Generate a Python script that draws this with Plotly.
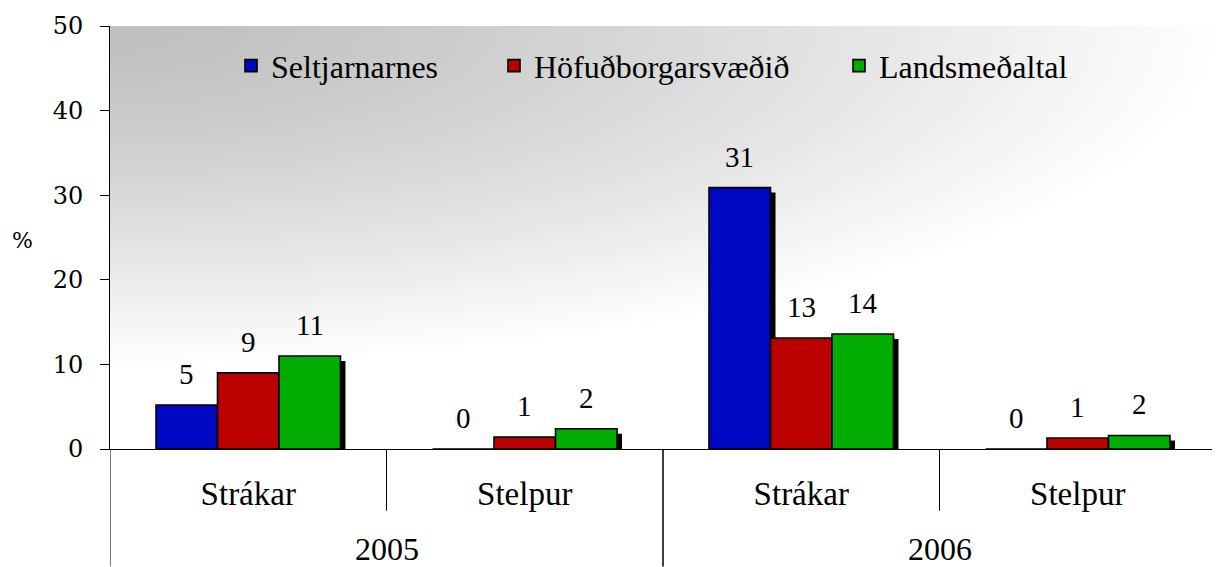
import base64
import struct
import zlib

import numpy as np
import plotly.graph_objects as go

# ---------------- data ----------------
years = ["2005", "2005", "2006", "2006"]
groups = ["Strákar", "Stelpur", "Strákar", "Stelpur"]
series_names = ["Seltjarnarnes", "Höfuðborgarsvæðið", "Landsmeðaltal"]
seltjarnarnes = [5.2, 0.0, 30.9, 0.0]
hofudborgarsvaedid = [9.0, 1.4, 13.1, 1.3]
landsmedaltal = [11.0, 2.4, 13.6, 1.6]
y_ticks = [0, 10, 20, 30, 40, 50]

series_values = [seltjarnarnes, hofudborgarsvaedid, landsmedaltal]
series_colors = ["#0008c4", "#bb0000", "#00ad00"]

# ---------------- layout constants ----------------
BODY = 8                      # page body margin of the html page
SCR_W, SCR_H = 1220, 567
W, H = SCR_W - BODY, SCR_H - BODY
# plot area in screen pixels: x 110..1216, y 24..449
ML, MR, MT, MB = 110 - BODY, SCR_W - 1216, 24 - BODY, SCR_H - 449
PW, PH = W - ML - MR, H - MT - MB


def px_x(sx):  # screen x -> paper x
    return (sx - BODY - ML) / PW


def px_y(sy):  # screen y -> paper y
    return (MT + PH - (sy - BODY)) / PH


SERIF = "Liberation Serif"
TICKFONT = "DejaVu Serif"

cat_keys = [f"{y} {g}" for y, g in zip(years, groups)]
n_series = len(series_values)
bar_w = 0.2224
shadow_dx = 5 / PW * len(cat_keys)
shadow_dy = 5 / PH * (y_ticks[-1] - y_ticks[0])


# ---------------- background gradient (png data uri) ----------------
def gradient_uri(w=240, h=96):
    u = np.linspace(0, 1, w)[None, :]
    v = np.linspace(0, 1, h)[:, None]
    d = np.clip(np.sqrt(u ** 2 + (v / 0.8) ** 2), 0, 1) ** 1.3
    c = (192 + 63 * d).astype(np.uint8)
    arr = np.stack([c, c, c], axis=-1)
    raw = b"".join(b"\x00" + row.tobytes() for row in arr)

    def chunk(tag, data):
        return (struct.pack(">I", len(data)) + tag + data
                + struct.pack(">I", zlib.crc32(tag + data) & 0xFFFFFFFF))

    png = (b"\x89PNG\r\n\x1a\n"
           + chunk(b"IHDR", struct.pack(">IIBBBBB", w, h, 8, 2, 0, 0, 0))
           + chunk(b"IDAT", zlib.compress(raw, 9))
           + chunk(b"IEND", b""))
    return "data:image/png;base64," + base64.b64encode(png).decode()


fig = go.Figure()
legend_ids = ["legend", "legend2", "legend3"]

for k, (name, vals, col) in enumerate(zip(series_names, series_values, series_colors)):
    vals = np.array(vals, dtype=float)
    off = (k - n_series / 2) * bar_w
    fig.add_trace(go.Bar(
        x=cat_keys, y=np.maximum(vals - shadow_dy, 0), offset=off + shadow_dx, width=bar_w,
        marker=dict(color="black", line=dict(width=0)), opacity=1,
        showlegend=False, hoverinfo="skip",
    ))
    fig.add_trace(go.Bar(
        x=cat_keys, y=vals, offset=off, width=bar_w, name=name, legend=legend_ids[k],
        marker=dict(color=col, line=dict(color="black", width=1.6)), opacity=1,
    ))

annotations = []
for k, vals in enumerate(series_values):
    for i, v in enumerate(vals):
        annotations.append(dict(
            x=i + (k - (n_series - 1) / 2) * bar_w, y=v, xref="x", yref="y",
            text=f"{v:.0f}", showarrow=False, yanchor="bottom", yshift=13,
            font=dict(family=SERIF, size=29, color="black"),
        ))

unique_years = list(dict.fromkeys(years))
shapes = []
for yr in unique_years:
    idx = [i for i, y in enumerate(years) if y == yr]
    annotations.append(dict(
        x=(idx[0] + idx[-1]) / 2, y=px_y(549), xref="x", yref="paper",
        text=yr, showarrow=False, yanchor="middle",
        font=dict(family=SERIF, size=32, color="black"),
    ))
    for edge in (idx[0] - 0.5, idx[-1] + 0.5):
        shapes.append(dict(type="line", xref="x", yref="paper", x0=edge, x1=edge,
                           y0=0, y1=px_y(SCR_H), line=dict(color="black", width=1)))
    for b in idx[:-1]:
        shapes.append(dict(type="line", xref="x", yref="paper", x0=b + 0.5, x1=b + 0.5,
                           y0=0, y1=px_y(511), line=dict(color="black", width=1)))

annotations.append(dict(
    x=px_x(22), y=px_y(240), xref="paper", yref="paper",
    text="%", showarrow=False, xanchor="center", yanchor="middle",
    font=dict(family=TICKFONT, size=22, color="black"),
))

legend_text_starts = [272, 535, 880]
legend_common = dict(orientation="h", xanchor="left", yanchor="middle",
                     bgcolor="rgba(0,0,0,0)",
                     font=dict(family=SERIF, size=32, color="black"))
legends = {lid: dict(legend_common, x=px_x(sx - 41), y=px_y(64))
           for lid, sx in zip(legend_ids, legend_text_starts)}

fig.update_layout(
    width=W, height=H,
    margin=dict(l=ML, r=MR, t=MT, b=MB, pad=0),
    paper_bgcolor="white",
    plot_bgcolor="rgba(0,0,0,0)",
    barmode="overlay",
    showlegend=True,
    images=[dict(source=gradient_uri(), xref="paper", yref="paper", x=0, y=1,
                 sizex=1, sizey=1, xanchor="left", yanchor="top",
                 sizing="stretch", layer="below")],
    annotations=annotations,
    shapes=shapes,
    **legends,
)

fig.update_xaxes(
    type="category", categoryorder="array", categoryarray=cat_keys,
    tickvals=cat_keys, ticktext=groups, range=[-0.5, len(cat_keys) - 0.5],
    showline=True, linecolor="black", linewidth=1, ticks="",
    showgrid=False, zeroline=False, ticklabelstandoff=15,
    tickfont=dict(family=SERIF, size=33, color="black"),
)
fig.update_yaxes(
    range=[y_ticks[0], y_ticks[-1]], tickvals=y_ticks,
    showline=True, linecolor="black", linewidth=1,
    ticks="outside", ticklen=9, tickcolor="black",
    showgrid=False, zeroline=False, ticklabelstandoff=12,
    tickfont=dict(family=TICKFONT, size=24, color="black"),
)

fig.write_html("out.html")
